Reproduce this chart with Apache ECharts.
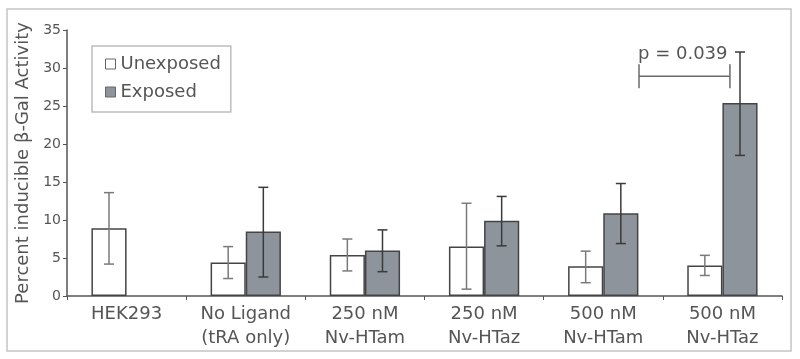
<!DOCTYPE html>
<html>
<head>
<meta charset="utf-8">
<script src="https://cdn.jsdelivr.net/npm/echarts@6/dist/echarts.min.js"></script>
<style>
  html, body { margin: 0; padding: 0; background: #ffffff; }
  #chart { width: 800px; height: 359px; }
</style>
</head>
<body>
<div id="chart"></div>
<script>
// data
var categories = ['HEK293', 'No Ligand\n(tRA only)', '250 nM\nNv-HTam', '250 nM\nNv-HTaz', '500 nM\nNv-HTam', '500 nM\nNv-HTaz'];
var unexposed     = [8.9, 4.4, 5.4, 6.5, 3.9, 4.0];
var unexposedLow  = [4.2, 2.3, 3.3, 0.9, 1.75, 2.7];
var unexposedHigh = [13.6, 6.5, 7.5, 12.2, 5.9, 5.35];
var exposed     = ['-', 8.5, 6.0, 9.9, 10.9, 25.4];
var exposedLow  = ['-', 2.5, 3.2, 6.6, 6.9, 18.5];
var exposedHigh = ['-', 14.3, 8.7, 13.1, 14.8, 32.1];
var yTicks = [0, 5, 10, 15, 20, 25, 30, 35];
// significance bracket between the last pair
var pCategory = 5;
var pLineY = 28.9;
var pTextY = 31.8;
var pText = 'p = 0.039';

var textColor = '#555555';
var font = 'DejaVu Sans';
var catGap = 41; // percent

var chart = echarts.init(document.getElementById('chart'));

// build [category, low, high] rows, skip missing
function errRows(vals, low, high) {
  var rows = [];
  for (var i = 0; i < vals.length; i++) {
    if (vals[i] === '-') continue;
    rows.push([i, low[i], high[i]]);
  }
  return rows;
}

// error bar drawer, side = -1 for left bar, +1 for right bar
function errRender(side, color) {
  return function (params, api) {
    var idx = api.value(0);
    var lo = api.coord([idx, api.value(1)]);
    var hi = api.coord([idx, api.value(2)]);
    var bw = api.size([1, 0])[0];
    var barW = bw * (1 - catGap / 100) / 2;
    var x = lo[0] + side * barW / 2;
    var cap = 5;
    var st = { stroke: color, lineWidth: 1.5 };
    return {
      type: 'group',
      children: [
        { type: 'line', shape: { x1: x, y1: lo[1], x2: x, y2: hi[1] }, style: st },
        { type: 'line', shape: { x1: x - cap, y1: lo[1], x2: x + cap, y2: lo[1] }, style: st },
        { type: 'line', shape: { x1: x - cap, y1: hi[1], x2: x + cap, y2: hi[1] }, style: st }
      ]
    };
  };
}

var option = {
  animation: false,
  backgroundColor: '#ffffff',
  textStyle: { fontFamily: font },
  graphic: [{
    type: 'rect',
    shape: { x: 7, y: 9, width: 784, height: 342 },
    style: { fill: 'none', stroke: '#c4c4c4', lineWidth: 1.5 },
    silent: true
  }],
  legend: {
    data: ['Unexposed', 'Exposed'],
    orient: 'vertical',
    left: 92,
    top: 46,
    icon: 'rect',
    itemWidth: 10,
    itemHeight: 10,
    itemGap: 10,
    padding: [9, 10, 11, 13],
    borderColor: '#bdbdbd',
    borderWidth: 1.5,
    textStyle: { color: textColor, fontSize: 18, fontFamily: font },
    itemStyle: { borderColor: '#666666', borderWidth: 1 }
  },
  grid: {
    left: 67,
    right: 18,
    top: 30,
    bottom: 63
  },
  xAxis: {
    type: 'category',
    data: categories,
    axisLine: { lineStyle: { color: '#555555', width: 1.5 } },
    axisTick: { show: true, length: 4, lineStyle: { color: '#555555' } },
    axisLabel: {
      color: textColor,
      fontSize: 18,
      fontFamily: font,
      lineHeight: 24,
      margin: 6,
      interval: 0
    }
  },
  yAxis: {
    type: 'value',
    min: yTicks[0],
    max: yTicks[yTicks.length - 1],
    interval: 5,
    name: 'Percent inducible \u03b2-Gal Activity',
    nameLocation: 'middle',
    nameGap: 33,
    nameTextStyle: { color: textColor, fontSize: 18, fontFamily: font },
    splitLine: { show: false },
    axisLine: { show: true, lineStyle: { color: '#555555', width: 1.5 } },
    axisTick: { show: true, length: 4, lineStyle: { color: '#555555' } },
    axisLabel: { color: textColor, fontSize: 14, fontFamily: font, margin: 6 }
  },
  series: [
    {
      name: 'Unexposed',
      type: 'bar',
      data: unexposed,
      barGap: '0%',
      barCategoryGap: catGap + '%',
      itemStyle: { color: '#ffffff', borderColor: '#444444', borderWidth: 1.5 }
    },
    {
      name: 'Exposed',
      type: 'bar',
      data: exposed,
      barGap: '0%',
      barCategoryGap: catGap + '%',
      itemStyle: { color: '#8e949c', borderColor: '#444444', borderWidth: 1.5 }
    },
    {
      name: 'errUnexposed',
      type: 'custom',
      z: 5,
      data: errRows(unexposed, unexposedLow, unexposedHigh),
      encode: { x: 0, y: [1, 2] },
      renderItem: errRender(-1, '#7a7a7a')
    },
    {
      name: 'errExposed',
      type: 'custom',
      z: 5,
      data: errRows(exposed, exposedLow, exposedHigh),
      encode: { x: 0, y: [1, 2] },
      renderItem: errRender(1, '#3a3a3a')
    },
    {
      name: 'pValue',
      type: 'custom',
      z: 5,
      data: [[pCategory, pLineY, pTextY]],
      encode: { x: 0, y: [1, 2] },
      renderItem: function (params, api) {
        var idx = api.value(0);
        var p = api.coord([idx, api.value(1)]);
        var t = api.coord([idx, api.value(2)]);
        var bw = api.size([1, 0])[0];
        var x1 = p[0] - bw * 0.70;
        var x2 = p[0] + bw * 0.063;
        var h = 12;
        var st = { stroke: '#6a6a6a', lineWidth: 1.5 };
        return {
          type: 'group',
          children: [
            { type: 'line', shape: { x1: x1, y1: p[1], x2: x2, y2: p[1] }, style: st },
            { type: 'line', shape: { x1: x1, y1: p[1] - h, x2: x1, y2: p[1] + h }, style: st },
            { type: 'line', shape: { x1: x2, y1: p[1] - h, x2: x2, y2: p[1] + h }, style: st },
            {
              type: 'text',
              x: x1 - 1,
              y: t[1],
              style: {
                text: pText,
                fill: textColor,
                font: '18px "DejaVu Sans"',
                textAlign: 'left',
                textVerticalAlign: 'middle'
              }
            }
          ]
        };
      }
    }
  ]
};

chart.setOption(option);
window.addEventListener('resize', function () {
  chart.resize();
});
</script>
</body>
</html>
